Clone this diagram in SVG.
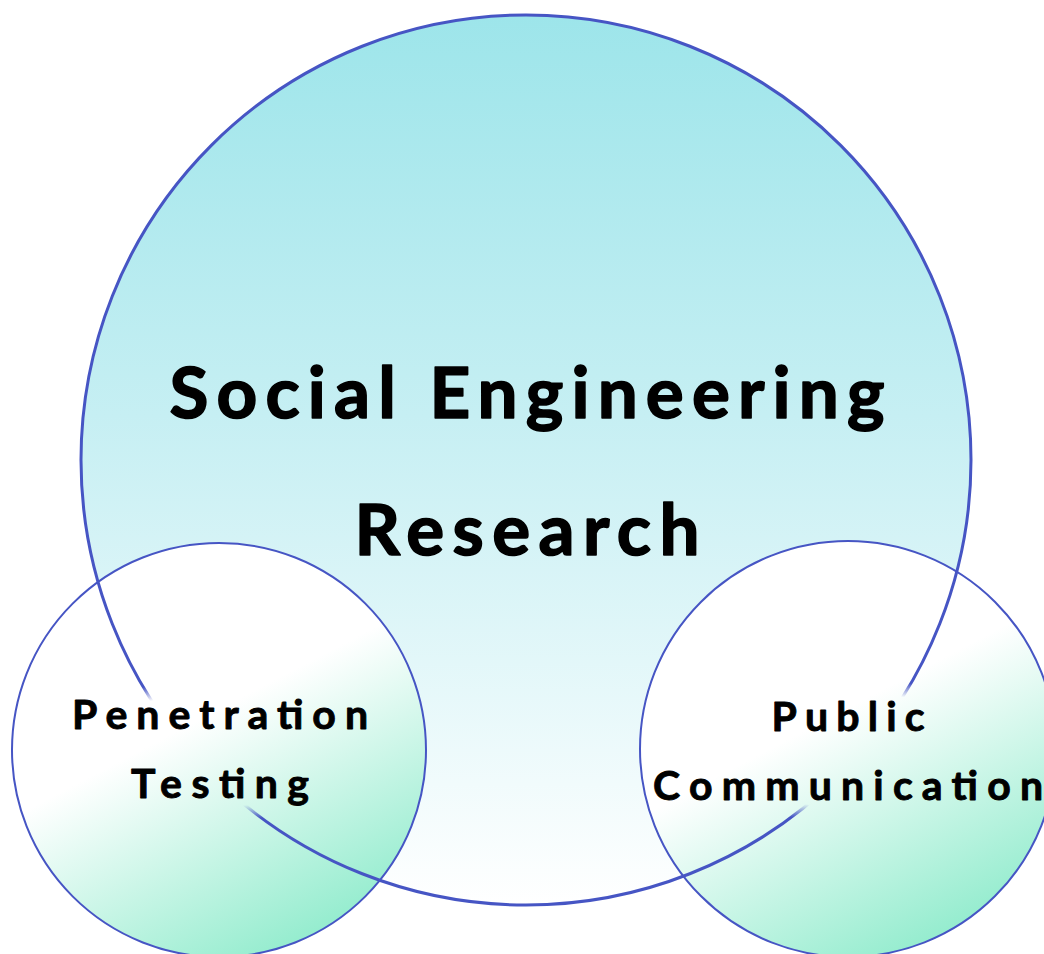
<svg xmlns="http://www.w3.org/2000/svg" width="1044" height="954" viewBox="0 0 1044 954">
  <defs>
    <linearGradient id="bigFill" x1="0" y1="0" x2="0" y2="1">
      <stop offset="0" stop-color="#9de5ea"/>
      <stop offset="0.45" stop-color="#c6eff3"/>
      <stop offset="1" stop-color="#ffffff"/>
    </linearGradient>
    <linearGradient id="smallFill" x1="0.3" y1="0.2" x2="0.72" y2="1">
      <stop offset="0" stop-color="#ffffff"/>
      <stop offset="0.3" stop-color="#ffffff"/>
      <stop offset="1" stop-color="#8debcb"/>
    </linearGradient>
    <radialGradient id="holeGrad" cx="0.5" cy="0.5" r="0.5">
      <stop offset="0" stop-color="#000"/>
      <stop offset="0.8" stop-color="#000"/>
      <stop offset="1" stop-color="#fff"/>
    </radialGradient>
    <mask id="lineMask" maskUnits="userSpaceOnUse" x="0" y="0" width="1044" height="954">
      <rect x="0" y="0" width="1044" height="954" fill="#fff"/>
      <ellipse cx="220" cy="750" rx="175" ry="70" fill="url(#holeGrad)"/>
      <ellipse cx="848" cy="750" rx="205" ry="70" fill="url(#holeGrad)"/>
    </mask>
    <style>
      .outline { fill: none; stroke: #4655c4; }
      .big { stroke-width: 3; }
      .small { stroke-width: 2; }
      .lbl { font-family: Lato, "Open Sans", "Liberation Sans", sans-serif; font-weight: 700; fill: #000; stroke: #000; stroke-linejoin: round; text-anchor: middle; }
      .main { font-size: 71px; stroke-width: 1.6; }
      .sub { font-size: 41px; stroke-width: 0.9; }
    </style>
  </defs>
  <rect x="0" y="0" width="1044" height="954" fill="#ffffff"/>
  <g id="node-social-engineering-research">
    <circle cx="526" cy="460" r="445" fill="url(#bigFill)"/>
  </g>
  <g id="node-penetration-testing">
    <circle cx="219" cy="750" r="207" fill="url(#smallFill)"/>
  </g>
  <g id="node-public-communication">
    <circle cx="848" cy="749" r="208" fill="url(#smallFill)"/>
  </g>
  <g id="outlines">
    <circle class="outline big" cx="526" cy="460" r="445" mask="url(#lineMask)"/>
    <circle class="outline small" cx="219" cy="750" r="207"/>
    <circle class="outline small" cx="848" cy="749" r="208"/>
  </g>
  <g id="labels">
    <text class="lbl main" x="527" y="418" textLength="715" lengthAdjust="spacing">Social Engineering</text>
    <text class="lbl main" x="527" y="555" textLength="345" lengthAdjust="spacing">Research</text>
    <text class="lbl sub" x="220" y="729" textLength="296" lengthAdjust="spacing">Penetration</text>
    <text class="lbl sub" x="220" y="798" textLength="178" lengthAdjust="spacing">Testing</text>
    <text class="lbl sub" x="848" y="731" textLength="153" lengthAdjust="spacing">Public</text>
    <text class="lbl sub" x="848" y="800" textLength="390" lengthAdjust="spacing">Communication</text>
  </g>
  <g id="connectors"></g>
</svg>
